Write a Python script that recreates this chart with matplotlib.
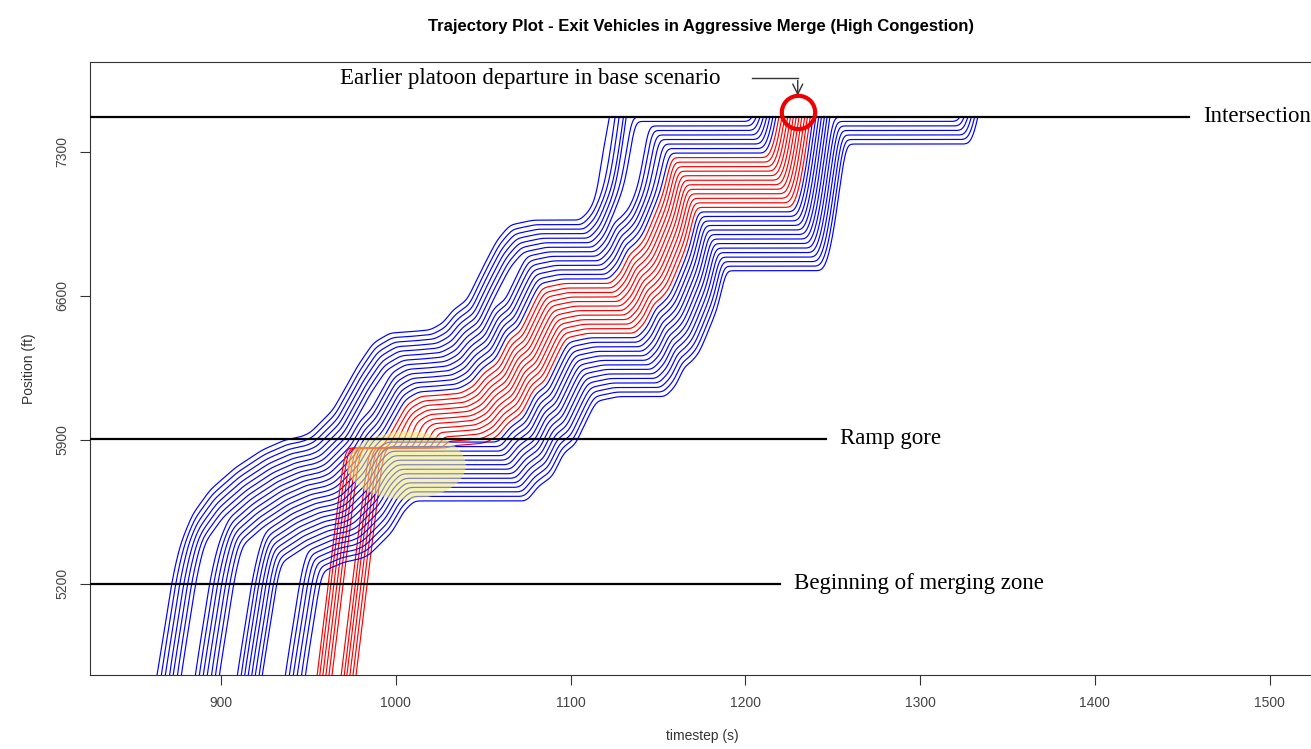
import numpy as np
import matplotlib
matplotlib.use("Agg")
import matplotlib.pyplot as plt
from matplotlib.patches import Ellipse

# lead vehicle path (time in s, position in ft)
lead_t = [860.0, 863.4, 868.5, 871.9, 876.5, 883.4, 893.7, 908.0, 923.5, 936.6,
          945.2, 950.9, 964.1, 977.8, 987.0, 996.7, 1006.4, 1019.6, 1027.0, 1032.7,
          1040.7, 1049.9, 1057.9, 1065.3, 1078.5, 1105.4, 1111.1, 1115.1, 1118.5, 1122.5,
          1160.0]
lead_pos = [4590, 4756, 5024, 5218, 5388, 5534, 5656, 5763, 5850, 5899,
            5913, 5933, 6045, 6254, 6370, 6419, 6424, 6434, 6468, 6531,
            6579, 6740, 6871, 6944, 6968, 6968, 7017, 7090, 7308, 7470,
            9720]

# times the other vehicles cross the bottom of the plot, platoon by platoon
blue_p1 = [865.7, 868.0, 870.3, 872.5, 874.8, 877.1]
blue_p2 = [885.1, 887.4, 889.7, 892.0, 894.3, 896.6, 898.9]
blue_p3 = [909.2, 911.3, 913.3, 915.4, 917.4, 919.5, 921.6, 923.5]
blue_p4 = [936.6, 938.9, 941.2, 943.5, 945.8, 948.1]
red_p1 = [954.8, 956.5, 958.2, 959.9, 961.6, 963.3]
red_p2 = [968.6, 970.3, 972.0, 973.7, 975.4, 977.1]

# signal greens at the intersection (s)
green_start = [1060, 1201, 1320]
green_end = [1134, 1249, 1420]

intersection = 7470
ramp_gore = 5905
merge_start = 5200
ramp_end = 5860

tau = 1.25    # reaction time (s)
gap = 22.0    # jam spacing (ft)
dt = 0.25
T = np.arange(845, 1420, dt)
lag = int(round(tau / dt))


def green(t):
    return any(s <= t < e for s, e in zip(green_start, green_end))


def drive(t_in, vmax, pred, ramp=False, red_ahead=None):
    x = np.full(len(T), np.nan)
    i0 = int(np.searchsorted(T, t_in - 1.5))
    x[i0] = 4756 - vmax * 1.5
    v = vmax
    shift = t_in - lead_t[1]
    for i in range(i0 + 1, len(T)):
        xp = x[i - 1]
        nxt = xp + min(v + 7.0 * dt, vmax) * dt
        if not ramp:
            want = np.interp(T[i] - shift, lead_t, lead_pos, left=np.inf)
            nxt = min(nxt, want)
        k = i - lag
        pp = pred[k] if k >= 0 else np.nan
        cap = np.inf
        if not np.isnan(pp):
            cap = max(ramp_end, pp - gap) if ramp else pp - gap
        if red_ahead is not None and k >= 0:
            rr = red_ahead[k]
            if not np.isnan(rr) and rr >= ramp_end:
                cap = min(cap, rr - gap)
        if xp <= intersection and not green(T[i]):
            cap = min(cap, intersection)
        nxt = max(min(nxt, cap), xp)
        v = (nxt - xp) / dt
        x[i] = nxt
    return x


def smooth(x, sigma=7):
    idx = np.where(~np.isnan(x))[0]
    a, b = idx[0], idx[-1] + 1
    seg = x[a:b]
    h = 3 * sigma
    k = np.exp(-0.5 * (np.arange(-h, h + 1) / sigma) ** 2)
    k /= k.sum()
    # extend the ends along their own slope so the tips stay straight
    head = seg[0] - (seg[1] - seg[0]) * np.arange(h, 0, -1)
    tail = seg[-1] + (seg[-1] - seg[-2]) * np.arange(1, h + 1)
    pad = np.concatenate([head, seg, tail])
    out = x.copy()
    out[a:b] = np.convolve(pad, k, mode="valid")
    return out


lead = np.interp(T, lead_t, lead_pos, left=np.nan)

paths, colors = [lead], ["#0000ff"]
prev = lead
for t_in in blue_p1 + blue_p2:
    prev = drive(t_in, 62, prev)
    paths.append(prev)
    colors.append("#0000ff")
last_blue = prev
for t_in in red_p1 + red_p2:
    prev = drive(t_in, 70, prev, ramp=True)
    paths.append(prev)
    colors.append("#ff0000")
last_red = prev
prev = last_blue
for n, t_in in enumerate(blue_p3 + blue_p4):
    prev = drive(t_in, 62, prev, red_ahead=last_red if n == 0 else None)
    paths.append(prev)
    colors.append("#0000ff")

plt.rcParams["font.family"] = ["Liberation Sans", "DejaVu Sans"]
fig = plt.figure(figsize=(13.11, 7.49), dpi=100)
ax = fig.add_axes([90 / 1311, 74 / 749, 1225 / 1311, 613 / 749])

for x, c in zip(paths, colors):
    y = smooth(x)
    hit = np.where(y >= intersection)[0]
    if len(hit):
        y[hit[0]] = intersection
        y[hit[0] + 1:] = np.nan
    ax.plot(T, y, color=c, lw=0.85)

ax.add_patch(Ellipse((1006, 5775), 68, 330, facecolor="#eee87a", alpha=0.55,
                     edgecolor="none", zorder=3))

ax.plot([825, 1454], [intersection, intersection], color="black", lw=1.6, zorder=4)
ax.plot([825, 1246], [ramp_gore, ramp_gore], color="black", lw=1.6, zorder=4)
ax.plot([825, 1220], [merge_start, merge_start], color="black", lw=1.6, zorder=4)

serif = ["Liberation Serif", "DejaVu Serif"]
ax.text(1462, intersection, "Intersection", family=serif, fontsize=16.5, va="center")
ax.text(1254, ramp_gore, "Ramp gore", family=serif, fontsize=16.5, va="center")
ax.text(1228, merge_start, "Beginning of merging zone", family=serif, fontsize=16.5,
        va="center")
ax.text(968, 7659, "Earlier platoon departure in base scenario", family=serif,
        fontsize=16.5, va="center")
ax.plot([1204, 1230], [7659, 7659], color="#333333", lw=1.0)
ax.annotate("", xy=(1230, 7560), xytext=(1230, 7661),
            arrowprops=dict(arrowstyle="->", color="#333333", lw=1.0,
                            mutation_scale=18))
ax.plot([1230], [7494], marker="o", ms=24, mfc="none", mec="#ee0000", mew=3,
        clip_on=False, zorder=5)

ax.set_xlim(825, 1526)
ax.set_ylim(4756, 7737)
ax.set_xticks([900, 1000, 1100, 1200, 1300, 1400, 1500])
ax.set_yticks([5200, 5900, 6600, 7300])
ax.set_yticklabels(["5200", "5900", "6600", "7300"], rotation=90, va="center")
ax.tick_params(direction="out", length=7, labelsize=10, colors="#333333",
               labelcolor="#444444", pad=8)
for s in ax.spines.values():
    s.set_color("#333333")
ax.set_xlabel("timestep (s)", fontsize=10, color="#333333", labelpad=14)
ax.set_ylabel("Position (ft)", fontsize=10, color="#333333", labelpad=14)
fig.text(0.535, 0.965, "Trajectory Plot - Exit Vehicles in Aggressive Merge (High Congestion)",
         ha="center", va="center", fontsize=12, fontweight="bold")

fig.savefig("out.png", dpi=100)
